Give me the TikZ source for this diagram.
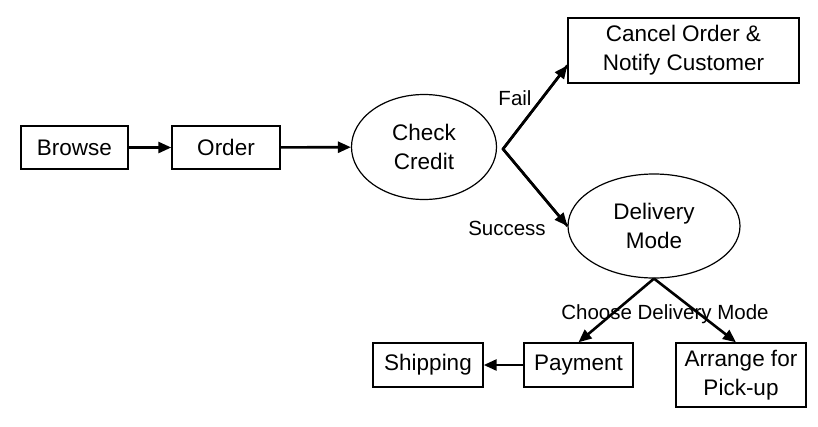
\documentclass[tikz,border=0pt]{standalone}
\usepackage{fontspec}
\setmainfont{Liberation Sans}
\usetikzlibrary{arrows.meta,shapes.geometric}

\begin{document}
\begin{tikzpicture}[x=1pt, y=-1pt, every node/.style={align=center}]
\tikzset{
  nodebox/.style={draw, line width=1.4pt, inner sep=0pt, font=\fontsize{22.5}{29}\selectfont},
  ovalnode/.style={draw, ellipse, line width=1.2pt, inner sep=0pt, font=\fontsize{22.5}{29}\selectfont},
  lbl/.style={font=\fontsize{20.5}{25}\selectfont, inner sep=1pt},
  arr/.style={-{Triangle[length=13pt,width=11pt]}, line width=2.6pt}
}
  \useasboundingbox (0,0) rectangle (818,426);
  % top row
  \node[nodebox, minimum width=107pt, minimum height=43pt] (browse) at (74.5,147.5) {Browse};
  \node[nodebox, minimum width=108pt, minimum height=43pt] (order) at (226,147.5) {Order};
  \node[ovalnode, minimum width=145pt, minimum height=105pt] (check) at (424,147) {Check\\Credit};
  \node[nodebox, minimum width=231pt, minimum height=65pt] (cancel) at (683.5,50.5) {Cancel Order \&\\Notify Customer};
  \node[ovalnode, minimum width=172pt, minimum height=104pt] (delivery) at (654,226) {Delivery\\Mode};
  % bottom row
  \node[nodebox, minimum width=110pt, minimum height=44pt] (shipping) at (428,365) {Shipping};
  \node[nodebox, minimum width=109pt, minimum height=44pt] (payment) at (578.5,365) {Payment};
  \node[nodebox, minimum width=130pt, minimum height=64pt] (pickup) at (741,375) {Arrange for\\Pick-up};
  \coordinate (branch) at (503,149);
  % connectors
  \draw[arr] (browse) -- (order);
  \draw[arr] (order) -- (check);
  \draw[line width=2.6pt, line join=miter] ([yshift=-15pt]cancel.west) -- (branch) -- (delivery.west);
  \draw[arr] (branch) -- ([yshift=-15pt]cancel.west);
  \draw[arr] (branch) -- (delivery.west);
  \draw[arr] (delivery.south) -- (payment.north);
  \draw[arr] (delivery.south) -- ([xshift=-5pt]pickup.north);
  \draw[arr] (payment) -- (shipping);
  % labels
  \node[lbl] (fail) at (515,98) {Fail};
  \node[lbl] (success) at (507,228) {Success};
  \node[lbl] (choose) at (665,314) {Choose Delivery Mode};
\end{tikzpicture}
\end{document}
